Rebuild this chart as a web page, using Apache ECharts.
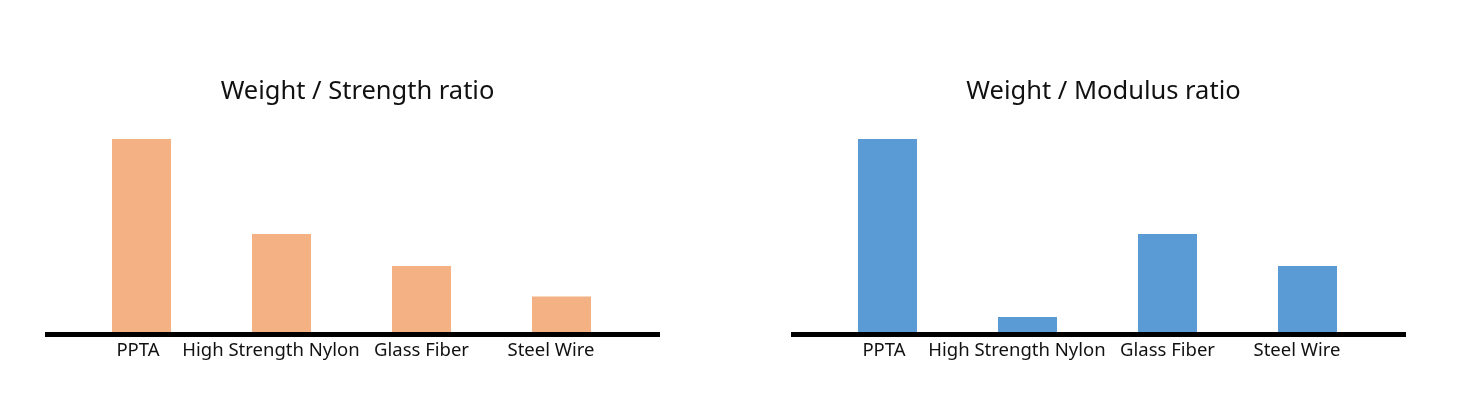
<!DOCTYPE html>
<html>
<head>
<meta charset="utf-8">
<script src="https://cdn.jsdelivr.net/npm/echarts@6/dist/echarts.min.js"></script>
<style>
html,body{margin:0;padding:0;background:#fff;}
#c{width:1457px;height:396px;}
</style>
</head>
<body>
<div id="c"></div>
<script>
const categories = ['PPTA', 'High Strength Nylon', 'Glass Fiber', 'Steel Wire'];
const strengthRatio = [6, 3.05, 2.05, 1.1];
const modulusRatio = [6, 0.47, 3.05, 2.05];
const titles = ['Weight / Strength ratio', 'Weight / Modulus ratio'];

// label horizontal nudges (px), styling only
const labelNudge = [-3.5, -10.5, 0, -10.5];

const FONT = '"Noto Sans", "DejaVu Sans", sans-serif';
const chart = echarts.init(document.getElementById('c'), null, {renderer: 'canvas'});

const barGrid = (left) => ({left: left, width: 560, top: 139, height: 193});
const lineGrid = (left) => ({left: left, width: 615, top: 139, height: 195});

const rich = {};
labelNudge.forEach((d, i) => {
  const p = Math.abs(d) * 2;
  rich['s' + i] = {
    color: '#111', fontSize: 18.5, fontFamily: FONT,
    padding: d < 0 ? [0, p, 0, 0] : [0, 0, 0, p]
  };
});

const catAxis = (gi) => ({
  type: 'category', gridIndex: gi, data: categories,
  axisLine: {show: false}, axisTick: {show: false},
  axisLabel: {
    show: true, color: '#111', fontSize: 18.5, fontFamily: FONT, margin: 9, interval: 0,
    formatter: (v, i) => '{s' + i + '|' + v + '}',
    rich: rich
  }
});
const lineAxis = (gi) => ({
  type: 'value', gridIndex: gi, min: 0, max: 1, z: 10,
  axisLine: {show: true, onZero: false, lineStyle: {color: '#000', width: 5, cap: 'butt'}},
  axisTick: {show: false}, axisLabel: {show: false}, splitLine: {show: false}
});
const valAxis = (gi) => ({
  type: 'value', gridIndex: gi, min: 0, max: 6, show: false,
  splitLine: {show: false}
});

chart.setOption({
  animation: false,
  backgroundColor: '#fff',
  title: [
    {text: titles[0], left: 352.5, top: 74, textAlign: 'center',
     textStyle: {fontSize: 25.5, fontWeight: 'normal', color: '#111', fontFamily: FONT}},
    {text: titles[1], left: 1098.5, top: 74, textAlign: 'center',
     textStyle: {fontSize: 25.5, fontWeight: 'normal', color: '#111', fontFamily: FONT}}
  ],
  grid: [barGrid(71.5), lineGrid(45), barGrid(817.5), lineGrid(791)],
  xAxis: [catAxis(0), lineAxis(1), catAxis(2), lineAxis(3)],
  yAxis: [valAxis(0), valAxis(1), valAxis(2), valAxis(3)],
  series: [
    {type: 'bar', xAxisIndex: 0, yAxisIndex: 0, data: strengthRatio, barWidth: 59,
     itemStyle: {color: '#F4B183'}},
    {type: 'bar', xAxisIndex: 2, yAxisIndex: 2, data: modulusRatio, barWidth: 59,
     itemStyle: {color: '#5B9BD5'}}
  ]
});
</script>
</body>
</html>
